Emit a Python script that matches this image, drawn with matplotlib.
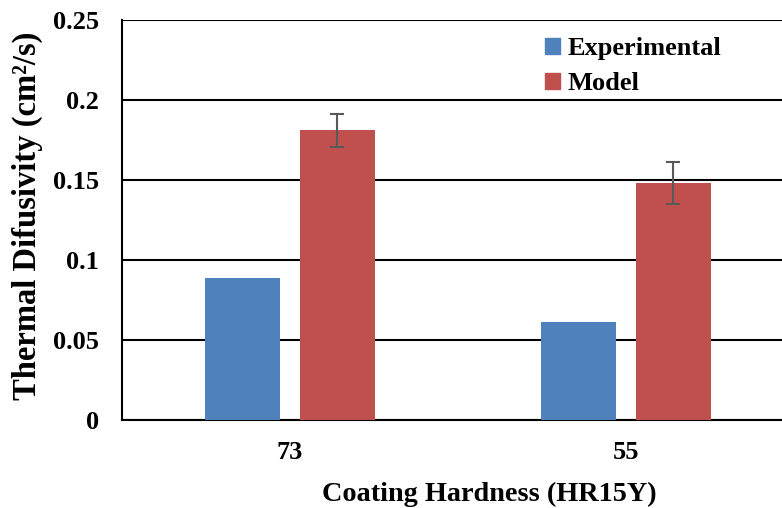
import matplotlib
matplotlib.use("Agg")
import matplotlib.pyplot as plt
from matplotlib.patches import Patch
import numpy as np

categories = ["73", "55"]
experimental = [0.089, 0.061]
model = [0.181, 0.148]
model_err = [0.0105, 0.013]
yticks = [0, 0.05, 0.1, 0.15, 0.2, 0.25]
ytick_labels = ["0", "0.05", "0.1", "0.15", "0.2", "0.25"]

plt.rcParams['font.family'] = ['Liberation Serif', 'DejaVu Serif']
plt.rcParams['font.weight'] = 'bold'

W, H = 782, 508
fig = plt.figure(figsize=(W/100, H/100), dpi=100)
ax = fig.add_axes([122/W, 1 - 420/H, (782-122)/W, 400/H])

x = np.arange(len(categories))
bw = 0.223
off = 0.141
ax.bar(x - off, experimental, bw, color="#4F81BD", zorder=3, label="Experimental")
ax.bar(x + off, model, bw, color="#C0504D", zorder=3, label="Model")
ax.errorbar(x + off, model, yerr=model_err, fmt="none", ecolor="#595959",
            elinewidth=1.5, capsize=5, capthick=1.5, zorder=4)

ax.set_ylim(0, 0.25)
ax.set_xlim(-0.5, (782 - 290) / 336)
ax.set_yticks(yticks)
ax.set_yticklabels(ytick_labels)
ax.set_xticks(x)
ax.set_xticklabels(categories)
ax.yaxis.grid(True, color="black", linewidth=1.5, zorder=0)
ax.set_axisbelow(True)
for s in ["top", "right"]:
    ax.spines[s].set_visible(False)
ax.spines["left"].set_linewidth(1.5)
ax.spines["bottom"].set_linewidth(1.5)
ax.tick_params(axis="both", length=0, labelsize=19)
ax.tick_params(axis="y", pad=16.5)
ax.tick_params(axis="x", pad=15)
for lab in ax.get_xticklabels() + ax.get_yticklabels():
    lab.set_fontweight("bold")

fig.text(27 / W, 1 - 216 / H, "Thermal Difusivity (cm\u00b2/s)", rotation=90,
         ha="center", va="center", fontsize=23.5, fontweight="bold")
fig.text(489.5 / W, 1 - 501 / H, "Coating Hardness (HR15Y)",
         ha="center", va="baseline", fontsize=20.3, fontweight="bold")

handles = [Patch(color="#4F81BD"), Patch(color="#C0504D")]
leg = fig.legend(handles, ["Experimental", "Model"], loc="upper left",
                 bbox_to_anchor=(540/W, 1 - 32/H), frameon=False,
                 prop={"size": 19, "weight": "bold"}, handlelength=0.55,
                 handleheight=0.55, handletextpad=0.3, labelspacing=0.45,
                 borderaxespad=0, borderpad=0.2)

fig.savefig("out.png", dpi=100)
